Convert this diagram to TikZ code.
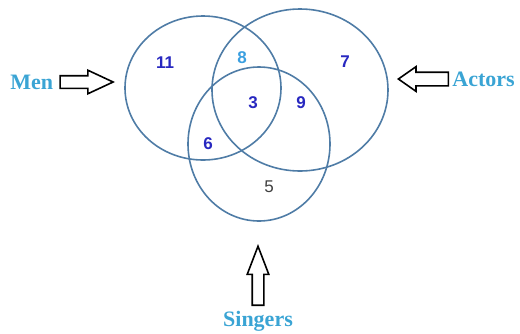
\documentclass[tikz,border=0pt]{standalone}
\usepackage{fontspec}
\setmainfont{Liberation Serif}
\newfontfamily\numfont{Liberation Sans}
\usetikzlibrary{positioning, shapes.arrows}
\definecolor{ringcolor}{HTML}{4F7CA6}
\definecolor{numcolor}{HTML}{2828C0}
\definecolor{lightnum}{HTML}{3A9FE0}
\definecolor{setcolor}{HTML}{3AA4D4}
\tikzset{
  setname/.style={font=\bfseries\fontsize{22}{24}\selectfont, text=setcolor, inner sep=0pt},
  regionnum/.style={font=\numfont\bfseries\fontsize{17}{19}\selectfont, text=numcolor, inner sep=0pt},
  blockarrow/.style={single arrow, draw=black, line width=1.6pt, fill=white, inner sep=0pt,
    minimum width=0pt, single arrow head extend=5.5pt, single arrow tip angle=50, anchor=tip}
}
\newcommand{\shaft}[1]{\rule{0pt}{#1}}

\begin{document}
\begin{tikzpicture}[x=1pt, y=-1pt]
        \useasboundingbox (0,0) rectangle (520,333);
        % The three sets
        \draw[ringcolor, line width=1.6pt] (203,88) ellipse (78 and 72);
        \draw[ringcolor, line width=1.6pt] (300,90) ellipse (88 and 81);
        \draw[ringcolor, line width=1.6pt] (259,144) ellipse (71 and 77);
        % Region counts
        \foreach \nm/\x/\y/\val in {m/165/63/11, a/345/62/7, ms/208/144/6, all/253/103/3, as/301/103/9} {
          \node[regionnum] (n\nm) at (\x,\y) {\val};
        }
        \node[regionnum, text=lightnum] (nma) at (242,58) {8};
        \node[regionnum, font=\numfont\fontsize{17}{19}\selectfont, text=black!75] (ns) at (269,187) {5};
        % Pointers with set names
        \node[blockarrow, minimum height=53pt] (menarrow) at (115,82) {\shaft{11pt}};
        \node[setname, left=6pt of menarrow.tail] (men) {Men};
        \node[blockarrow, minimum height=50pt, shape border rotate=180, single arrow tip angle=70] (actarrow) at (397,79) {\shaft{12pt}};
        \node[setname, right=3pt of actarrow.tail] (actors) {Actors};
        \node[blockarrow, minimum height=59pt, rotate=90, single arrow head extend=5pt, single arrow tip angle=42] (singarrow) at (258,244) {\shaft{10pt}};
        \node[setname, below=5pt of singarrow.tail] (singers) {Singers};
      \end{tikzpicture}
\end{document}
